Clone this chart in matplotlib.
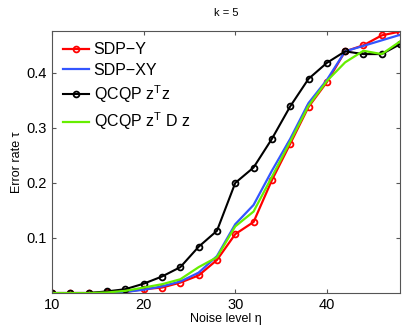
import matplotlib
matplotlib.use("Agg")
import matplotlib.pyplot as plt

noise = [10, 12, 14, 16, 18, 20, 22, 24, 26, 28, 30, 32, 34, 36, 38, 40, 42, 44, 46, 48]
sdp_y = [0, 0, 0, 0.001, 0.002, 0.007, 0.010, 0.019, 0.032, 0.060, 0.107, 0.129, 0.205,
         0.271, 0.338, 0.383, 0.439, 0.450, 0.468, 0.475]
sdp_xy = [0, 0, 0, 0.001, 0.002, 0.006, 0.012, 0.021, 0.037, 0.067, 0.125, 0.160, 0.222,
          0.280, 0.345, 0.387, 0.439, 0.449, 0.459, 0.469]
qcqp_ztz = [0, 0, 0, 0.003, 0.007, 0.017, 0.030, 0.047, 0.084, 0.113, 0.200, 0.228, 0.280,
            0.339, 0.389, 0.418, 0.439, 0.434, 0.434, 0.452]
qcqp_ztdz = [0, 0, 0, 0.001, 0.004, 0.010, 0.016, 0.025, 0.047, 0.065, 0.121, 0.148, 0.211,
             0.275, 0.340, 0.385, 0.419, 0.440, 0.434, 0.457]

plt.rcParams["font.family"] = ["Liberation Sans", "DejaVu Sans"]

fig = plt.figure(figsize=(4.07, 3.33), dpi=100)
ax = fig.add_axes([0.128, 0.12, 0.855, 0.787])

ax.plot(noise, sdp_y, "-o", color="#ff0000", lw=1.6, ms=4.2, mfc="none", mew=1.3, label="SDP\u2212Y")
ax.plot(noise, sdp_xy, "-", color="#3355ff", lw=1.6, label="SDP\u2212XY")
ax.plot(noise, qcqp_ztz, "-o", color="black", lw=1.5, ms=4.2, mfc="none", mew=1.3,
        label="QCQP z$^\\mathregular{T}$z")
ax.plot(noise, qcqp_ztdz, "-", color="#66ee00", lw=1.6, label="QCQP z$^\\mathregular{T}$ D z")

ax.set_xlim(10, 48)
ax.set_ylim(0, 0.476)
ax.set_xticks([10, 20, 30, 40])
ax.set_yticks([0.1, 0.2, 0.3, 0.4])
ax.tick_params(direction="in", top=True, right=True, labelsize=10.5, length=3, color="#555555")
for s in ax.spines.values():
    s.set_color("#555555")

ax.set_xlabel("Noise level \u03b7", fontsize=9, labelpad=1)
ax.set_ylabel("Error rate \u03c4", fontsize=9, labelpad=3)
ax.set_title("k = 5", fontsize=8, pad=11)

ax.legend(loc="upper left", frameon=False, fontsize=11.5, handlelength=1.6,
          handletextpad=0.3, labelspacing=0.35, borderaxespad=0.3)

plt.savefig("out.png", dpi=100)
